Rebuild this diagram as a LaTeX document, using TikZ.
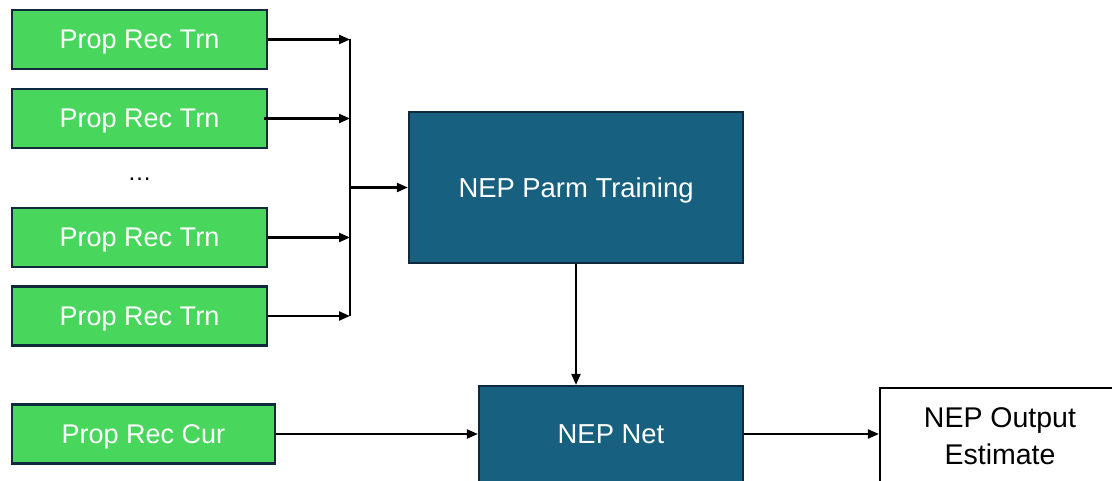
\documentclass[tikz,border=0pt]{standalone}
\usepackage{fontspec}
\setmainfont{Liberation Sans}
\usetikzlibrary{arrows.meta}
\definecolor{grn}{HTML}{48D65C}
\definecolor{teal}{HTML}{17607F}
\definecolor{bord}{HTML}{0E2A3C}
\tikzset{
  recbox/.style={draw=bord, line width=2.2pt, fill=grn, text=white, minimum width=255pt, minimum height=59pt, inner sep=0pt, text depth=0pt, font=\fontsize{27}{30}\selectfont},
  nepbox/.style={draw=bord, line width=2.2pt, fill=teal, text=white, inner sep=0pt, text depth=0pt, font=\fontsize{27.4}{30}\selectfont},
  outbox/.style={draw=black, line width=2.2pt, fill=white, text=black, inner sep=0pt, align=center, font=\fontsize{28.5}{37}\selectfont},
  conn/.style={line width=2.2pt, -{Triangle[length=11pt,width=9pt]}},
  plain/.style={line width=2.2pt}
}
\begin{document}
\begin{tikzpicture}[x=1pt,y=-1pt]
\clip (0,0) rectangle (1112,481);
\fill[white] (0,0) rectangle (1112,481);
\node[recbox] (r1) at (139.5,39.5) {Prop Rec Trn};
\node[recbox] (r2) at (139.5,118.5) {Prop Rec Trn};
\node (dots) at (139.5,179) {\fontsize{24}{26}\selectfont\dots};
\node[recbox] (r3) at (139.5,237.5) {Prop Rec Trn};
\node[recbox] (r4) at (139.5,316) {Prop Rec Trn};
\node[recbox, minimum width=263pt] (rc) at (143.5,434) {Prop Rec Cur};
\node[nepbox, minimum width=334pt, minimum height=151pt] (pt) at (576,187.5) {NEP Parm Training};
\node[nepbox, minimum width=264pt, minimum height=96pt] (nn) at (611,434) {NEP Net};
\node[outbox, minimum width=240pt, minimum height=96pt] (oe) at (1000,436) {NEP Output\\Estimate};
\coordinate (b1) at (350,39.5);
\coordinate (b2) at (350,118.5);
\coordinate (b3) at (350,237.5);
\coordinate (b4) at (350,316);
\coordinate (bm) at (350,187.5);
\draw[plain] (b1) -- (b4);
\draw[conn] (r1.east) -- (b1);
\draw[conn] ([xshift=-4pt]r2.east) -- (b2);
\draw[conn] (r3.east) -- (b3);
\draw[conn] (r4.east) -- (b4);
\draw[conn] (bm) -- (pt.west);
\draw[conn] (pt.south) -- (pt.south |- nn.north);
\draw[conn] (rc.east) -- (nn.west);
\draw[conn] (nn.east) -- (nn.east -| oe.west);
\end{tikzpicture}
\end{document}
